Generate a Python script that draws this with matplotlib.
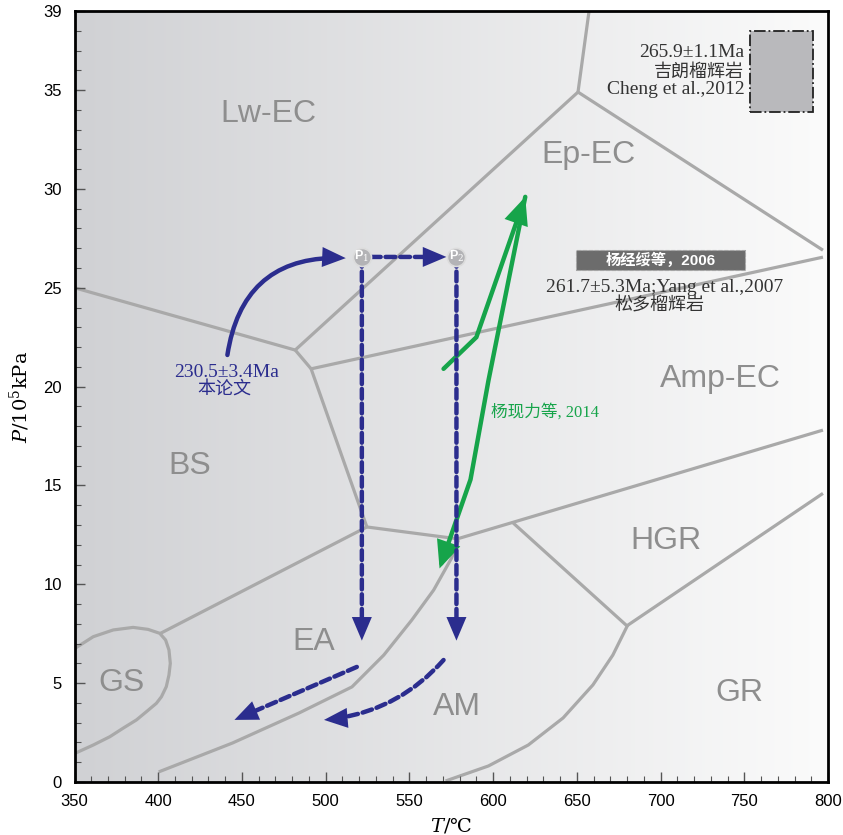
import numpy as np
import matplotlib.pyplot as plt
from matplotlib.colors import LinearSegmentedColormap
from matplotlib.patches import FancyArrowPatch, Rectangle
from matplotlib.path import Path
from matplotlib.ticker import MultipleLocator

plt.rcParams['font.family'] = ['Liberation Sans', 'Noto Sans CJK SC']
plt.rcParams['mathtext.fontset'] = 'dejavuserif'
SERIF = ['Liberation Serif', 'Noto Sans CJK SC']

# facies boundaries: temperature (degC) and pressure (10^5 kPa)
ep_top_T, ep_top_P = [657.3, 650.7], [39.0, 34.9]
ep_right_T, ep_right_P = [650.7, 797.0], [34.9, 26.9]
ep_lw_T, ep_lw_P = [650.7, 481.8], [34.9, 21.85]
lw_bs_T, lw_bs_P = [481.8, 350.0], [21.85, 25.0]
short_T, short_P = [481.8, 491.3], [21.85, 20.9]
amp_top_T, amp_top_P = [491.3, 797.0], [20.9, 26.55]
bs_ea_T, bs_ea_P = [491.3, 524.6], [20.9, 12.9]
ea_amp_T, ea_amp_P = [524.6, 578.7], [12.9, 12.3]
ea_bs_T, ea_bs_P = [524.6, 400.9], [12.9, 7.5]
amp_hgr_T, amp_hgr_P = [578.7, 797.0], [12.3, 17.8]
hgr_am_T, hgr_am_P = [612.0, 679.9], [13.1, 7.9]
hgr_gr_T, hgr_gr_P = [679.9, 797.0], [7.9, 14.6]
gr_am_T = [571.6, 597.2, 621.0, 641.8, 659.6, 671.5, 680.4]
gr_am_P = [0.05, 0.81, 1.87, 3.24, 4.91, 6.42, 7.94]
ea_am_T = [400.3, 444.3, 484.1, 515.7, 534.7, 551.4, 564.5, 575.2, 579.3]
ea_am_P = [0.51, 1.97, 3.49, 4.81, 6.42, 8.19, 9.71, 11.33, 12.24]
gs_T = [350.3, 361.2, 373.1, 385.0, 393.9, 400.9, 404.4, 406.4, 407.2, 406.4,
        404.8, 401.9, 398.9, 393.0, 387.0, 379.0, 371.1, 361.2, 350.3]
gs_P = [6.76, 7.35, 7.69, 7.82, 7.72, 7.52, 7.18, 6.68, 6.00, 5.41,
        4.82, 4.31, 3.98, 3.56, 3.14, 2.72, 2.29, 1.87, 1.45]

field_names = ['Lw-EC', 'Ep-EC', 'Amp-EC', 'BS', 'HGR', 'EA', 'GS', 'AM', 'GR']
field_T = [465.8, 656.7, 735.8, 418.7, 703.0, 493.0, 378.3, 578.2, 747.0]
field_P = [33.8, 31.7, 20.4, 16.0, 12.2, 7.1, 5.0, 3.8, 4.5]

# P-T path of this study
p_names = ['P$_1$', 'P$_2$']
p_T = [521.6, 578.1]
p_P = [26.56, 26.56]
prograde_start = (441.3, 21.6)
prograde_end = (512.0, 26.5)
heat_start, heat_end = (527.0, 26.56), (572.1, 26.56)
decomp_P = 7.15
cool1_start, cool1_end = (518.6, 5.82), (445.5, 3.14)
cool2_start, cool2_end = (570.4, 6.17), (499.0, 3.14)

# path from Yang et al. 2014
green_up_T, green_up_P = [570.4, 590.0, 619.2], [20.9, 22.5, 29.6]
green_dn_T, green_dn_P = [619.2, 597.2, 586.5, 568.0], [29.6, 20.3, 15.3, 10.8]

BLUE = '#2b2d8e'
GREEN = '#16a44a'
GRAY = '#a9a9a9'

fig = plt.figure(figsize=(8.43, 8.35), dpi=100)
ax = fig.add_axes([0.0884, 0.0635, 0.8938, 0.9233])

bg = LinearSegmentedColormap.from_list('bg', ['#d0d1d4', '#fbfbfb'])
ax.imshow(np.linspace(0, 1, 256)[None, :], extent=[350, 800, 0, 39],
          aspect='auto', cmap=bg, zorder=0)

for T, P in [(ep_top_T, ep_top_P), (ep_right_T, ep_right_P), (ep_lw_T, ep_lw_P),
             (lw_bs_T, lw_bs_P), (short_T, short_P), (amp_top_T, amp_top_P),
             (bs_ea_T, bs_ea_P), (ea_amp_T, ea_amp_P), (ea_bs_T, ea_bs_P),
             (amp_hgr_T, amp_hgr_P), (hgr_am_T, hgr_am_P), (hgr_gr_T, hgr_gr_P),
             (gr_am_T, gr_am_P), (ea_am_T, ea_am_P), (gs_T, gs_P)]:
    ax.plot(T, P, color=GRAY, lw=2.3, solid_capstyle='butt',
            solid_joinstyle='round', zorder=1)

for name, T, P in zip(field_names, field_T, field_P):
    ax.text(T, P, name, fontsize=23, color='#8e8e8e', ha='center', va='center', zorder=2)

dash = (0, (2.2, 1.1))
head = '-|>,head_length=0.85,head_width=0.36'


def arrow(a, b, rad=0.0, dashed=False):
    # shaft and filled head are drawn separately so the head stays solid
    ax.add_patch(FancyArrowPatch(a, b, connectionstyle=f'arc3,rad={rad}',
                                 arrowstyle='-', color=BLUE, lw=3.2,
                                 ls=dash if dashed else '-',
                                 shrinkA=0, shrinkB=10, zorder=5))
    ax.add_patch(FancyArrowPatch(a, b, connectionstyle=f'arc3,rad={rad}',
                                 arrowstyle=head, mutation_scale=20, color=BLUE,
                                 lw=0, shrinkA=0, shrinkB=0, zorder=5))


def path_arrow(T, P, color):
    ax.add_patch(FancyArrowPatch(path=Path(np.column_stack([T, P])),
                                 arrowstyle='-|>,head_length=0.72,head_width=0.32',
                                 mutation_scale=20, color=color, lw=3.2,
                                 joinstyle='miter', zorder=4))


arrow(prograde_start, prograde_end, rad=-0.45)
arrow(heat_start, heat_end, dashed=True)
for T in p_T:
    arrow((T, p_P[0]), (T, decomp_P), dashed=True)
arrow(cool1_start, cool1_end, rad=0.0, dashed=True)
arrow(cool2_start, cool2_end, rad=-0.2, dashed=True)

path_arrow(green_up_T, green_up_P, GREEN)
path_arrow(green_dn_T, green_dn_P, GREEN)

for name, T, P in zip(p_names, p_T, p_P):
    ax.plot(T, P, 'o', ms=13, mfc='#b3b3b6', mec='#dcdcdc', mew=1.2, zorder=6)
    ax.text(T, P, name, fontsize=9, color='white', fontweight='bold',
            ha='center', va='center', zorder=7)

ax.text(441.0, 20.7, '230.5±3.4Ma', color=BLUE, fontsize=14, family=SERIF,
        ha='center', va='center', zorder=3)
ax.text(439.5, 19.8, '本论文', color=BLUE, fontsize=13, family=SERIF,
        ha='center', va='center', zorder=3)
ax.text(599.0, 18.7, '杨现力等, 2014', color=GREEN, fontsize=12, family=SERIF,
        ha='left', va='center', zorder=3)

ax.add_patch(Rectangle((649.5, 25.9), 101.2, 1.0, fc='#6c6c6c', ec='#a5a5a5',
                       ls='--', lw=0.8, zorder=3))
ax.text(700.0, 26.4, '杨经绥等，2006', color='white', fontsize=11, fontweight='bold',
        ha='center', va='center', zorder=4)
ax.text(702.5, 25.0, '261.7±5.3Ma;Yang et al.,2007', color='#333333', fontsize=14,
        family=SERIF, ha='center', va='center', zorder=3)
ax.text(699.5, 24.1, '松多榴辉岩', color='#333333', fontsize=13, family=SERIF,
        ha='center', va='center', zorder=3)

ax.add_patch(Rectangle((753.6, 33.9), 37.5, 4.1, fc='#b9b9bc', ec='#222222',
                       ls='-.', lw=1.3, zorder=3))
ax.text(750.0, 36.9, '265.9±1.1Ma', color='#333333', fontsize=14, family=SERIF,
        ha='right', va='center', zorder=3)
ax.text(750.0, 35.9, '吉朗榴辉岩', color='#333333', fontsize=13, family=SERIF,
        ha='right', va='center', zorder=3)
ax.text(750.0, 35.05, 'Cheng et al.,2012', color='#333333', fontsize=14, family=SERIF,
        ha='right', va='center', zorder=3)

ax.set_xlim(350, 800)
ax.set_ylim(0, 39)
ax.set_xticks(np.arange(350, 801, 50))
ax.set_yticks(list(range(0, 36, 5)) + [39])
ax.xaxis.set_minor_locator(MultipleLocator(10))
ax.yaxis.set_minor_locator(MultipleLocator(1))
ax.tick_params(which='major', direction='in', length=7, width=1, color='#555555',
               labelsize=12, pad=9)
ax.tick_params(which='minor', direction='in', length=4, width=0.8, color='#555555')
for s in ax.spines.values():
    s.set_linewidth(2)

ax.set_xlabel('$T$/℃', fontsize=14, family=['DejaVu Serif'], labelpad=4)
ax.set_ylabel('$P$/10$^5$kPa', fontsize=14, family=['DejaVu Serif'], labelpad=8)

fig.savefig('out.png', dpi=100)
